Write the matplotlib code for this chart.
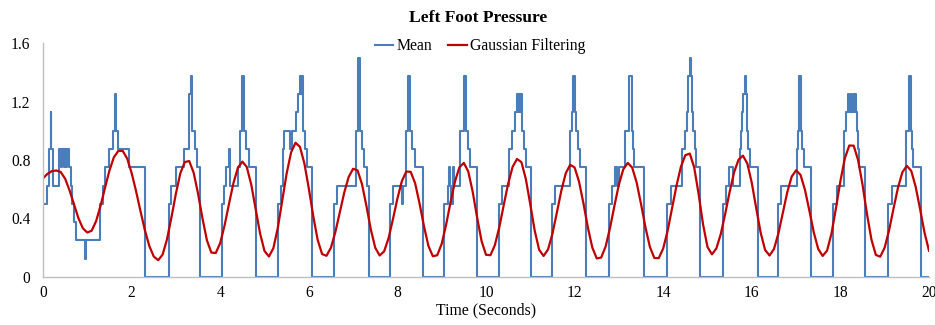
import matplotlib
matplotlib.use("Agg")
import matplotlib.pyplot as plt
import numpy as np

# ---- data ----
title = "Left Foot Pressure"
x_label = "Time (Seconds)"
series_names = ["Mean", "Gaussian Filtering"]
x_ticks = [0, 2, 4, 6, 8, 10, 12, 14, 16, 18, 20]
y_ticks = [0, 0.4, 0.8, 1.2, 1.6]

# Mean: step signal (time where a level starts, level)
mean_t = [0.00, 0.08, 0.13, 0.17, 0.19, 0.23, 0.36, 0.40, 0.43, 0.47, 0.50, 0.53, 0.55, 0.58, 0.63, 0.66, 0.70, 0.74, 0.95, 0.97,
          1.29, 1.36, 1.41, 1.48, 1.59, 1.62, 1.65, 1.70, 1.94, 2.30,
          2.85, 2.90, 3.01, 3.19, 3.29, 3.33, 3.37, 3.42, 3.47, 3.55,
          4.04, 4.09, 4.14, 4.19, 4.22, 4.41, 4.44, 4.50, 4.54, 4.59, 4.66, 4.81,
          5.31, 5.37, 5.41, 5.43, 5.58, 5.62, 5.70, 5.76, 5.80, 5.83, 5.85, 5.88, 5.92, 5.96, 6.07,
          6.57, 6.63, 7.06, 7.10, 7.15, 7.21, 7.25, 7.31, 7.37,
          7.83, 7.89, 8.11, 8.13, 8.19, 8.25, 8.29, 8.33, 8.39, 8.57,
          9.05, 9.15, 9.16, 9.19, 9.20, 9.25, 9.28, 9.41, 9.51, 9.55, 9.60, 9.64, 9.79,
          10.29, 10.37, 10.52, 10.59, 10.65, 10.71, 10.73, 10.74, 10.77, 10.78, 10.81, 10.86, 10.90, 11.02,
          11.50, 11.56, 11.90, 11.95, 11.97, 12.02, 12.04, 12.07, 12.12, 12.26,
          12.78, 12.84, 12.91, 12.96, 13.01, 13.14, 13.23, 13.29, 13.32, 13.35, 13.56,
          14.08, 14.17, 14.43, 14.49, 14.54, 14.57, 14.60, 14.63, 14.65, 14.68, 14.71, 14.74, 14.84,
          15.34, 15.42, 15.48, 15.58, 15.73, 15.76, 15.79, 15.81, 15.84, 15.87, 15.89, 15.92, 15.96, 16.13,
          16.60, 16.67, 17.01, 17.04, 17.07, 17.11, 17.14, 17.17, 17.34,
          17.84, 17.92, 18.08, 18.13, 18.18, 18.20, 18.23, 18.25, 18.28, 18.31, 18.33, 18.35, 18.37, 18.40, 18.43, 18.56,
          19.08, 19.17, 19.48, 19.54, 19.59, 19.62, 19.65, 19.83, 20.00]
mean_v = [0.5, 0.625, 0.875, 1.125, 0.875, 0.625, 0.875, 0.75, 0.875, 0.75, 0.875, 0.75, 0.875, 0.75, 0.625, 0.5, 0.375, 0.25, 0.125, 0.25,
          0.5, 0.625, 0.75, 0.875, 1.0, 1.25, 1.0, 0.875, 0.75, 0.0,
          0.5, 0.625, 0.75, 0.875, 1.25, 1.375, 1.0, 0.875, 0.75, 0.0,
          0.5, 0.625, 0.75, 0.875, 0.625, 0.75, 1.0, 1.375, 1.0, 0.875, 0.75, 0.0,
          0.5, 0.625, 0.875, 1.0, 0.875, 1.0, 1.125, 1.25, 1.375, 1.25, 1.375, 1.0, 0.875, 0.75, 0.0,
          0.5, 0.625, 1.0, 1.5, 1.0, 0.875, 0.75, 0.625, 0.0,
          0.5, 0.625, 0.5, 0.625, 1.0, 1.375, 1.0, 0.875, 0.75, 0.0,
          0.5, 0.625, 0.75, 0.625, 0.5, 0.75, 0.625, 1.0, 1.375, 1.0, 0.875, 0.75, 0.0,
          0.5, 0.625, 0.875, 1.0, 1.125, 1.25, 1.125, 1.25, 1.125, 1.25, 1.0, 0.875, 0.75, 0.0,
          0.5, 0.625, 1.0, 1.125, 1.375, 1.125, 1.0, 0.875, 0.75, 0.0,
          0.5, 0.625, 0.75, 0.625, 0.75, 1.0, 1.375, 1.0, 0.875, 0.75, 0.0,
          0.5, 0.625, 0.875, 1.0, 1.125, 1.375, 1.5, 1.375, 1.125, 1.0, 0.875, 0.75, 0.0,
          0.5, 0.625, 0.75, 0.625, 0.875, 1.0, 1.125, 1.25, 1.375, 1.25, 1.0, 0.875, 0.75, 0.0,
          0.5, 0.625, 0.875, 1.0, 1.375, 1.0, 0.875, 0.75, 0.0,
          0.5, 0.625, 1.0, 1.125, 1.25, 1.125, 1.25, 1.125, 1.25, 1.125, 1.25, 1.125, 1.0, 0.875, 0.75, 0.0,
          0.5, 0.625, 1.0, 1.375, 1.0, 0.875, 0.75, 0.0, 0.0]

# Gaussian filtering: sampled every 0.1 s from 0 to 20
gauss_t = [round(i * 0.1, 1) for i in range(201)]
gauss_v = [0.675, 0.705, 0.724, 0.728, 0.718, 0.672, 0.592, 0.496, 0.402, 0.333,
           0.304, 0.317, 0.383, 0.488, 0.610, 0.728, 0.819, 0.862, 0.862, 0.810,
           0.712, 0.588, 0.451, 0.320, 0.212, 0.140, 0.115, 0.153, 0.259, 0.409,
           0.570, 0.709, 0.786, 0.793, 0.714, 0.570, 0.401, 0.251, 0.167, 0.164,
           0.232, 0.354, 0.502, 0.644, 0.747, 0.789, 0.752, 0.633, 0.465, 0.298,
           0.178, 0.140, 0.197, 0.335, 0.520, 0.708, 0.852, 0.918, 0.890, 0.777,
           0.606, 0.417, 0.254, 0.157, 0.145, 0.201, 0.308, 0.443, 0.577, 0.684,
           0.740, 0.729, 0.636, 0.487, 0.325, 0.200, 0.147, 0.175, 0.265, 0.396,
           0.536, 0.655, 0.721, 0.719, 0.641, 0.503, 0.347, 0.213, 0.142, 0.149,
           0.227, 0.358, 0.512, 0.653, 0.750, 0.780, 0.721, 0.582, 0.406, 0.246,
           0.152, 0.149, 0.218, 0.340, 0.491, 0.638, 0.752, 0.807, 0.785, 0.669,
           0.496, 0.316, 0.186, 0.144, 0.188, 0.296, 0.441, 0.590, 0.709, 0.767,
           0.749, 0.652, 0.503, 0.338, 0.201, 0.127, 0.133, 0.208, 0.336, 0.488,
           0.633, 0.737, 0.780, 0.748, 0.647, 0.498, 0.339, 0.205, 0.130, 0.129,
           0.195, 0.316, 0.469, 0.624, 0.754, 0.833, 0.844, 0.749, 0.566, 0.359,
           0.205, 0.155, 0.195, 0.294, 0.432, 0.582, 0.715, 0.802, 0.830, 0.775,
           0.643, 0.470, 0.303, 0.185, 0.147, 0.191, 0.297, 0.439, 0.579, 0.686,
           0.730, 0.698, 0.596, 0.453, 0.304, 0.191, 0.144, 0.181, 0.299, 0.471,
           0.656, 0.811, 0.899, 0.898, 0.799, 0.630, 0.431, 0.257, 0.151, 0.139,
           0.202, 0.321, 0.469, 0.611, 0.717, 0.760, 0.725, 0.616, 0.462, 0.302,
           0.180]

# ---- style ----
plt.rcParams['font.family'] = ['Liberation Serif', 'DejaVu Serif']
blue = "#4A7EBB"
red = "#C00000"
axis_gray = "#BFBFBF"

fig = plt.figure(figsize=(9.35, 3.25), dpi=100)
ax = fig.add_axes([43 / 935, 1 - 277 / 325, (929 - 43) / 935, (277 - 43) / 325])

ax.plot(mean_t, mean_v, drawstyle="steps-post", color=blue, lw=1.5, label=series_names[0])
ax.plot(gauss_t, gauss_v, color=red, lw=1.6, label=series_names[1])

ax.set_xlim(0, 20)
ax.set_ylim(0, 1.6)
ax.set_xticks(x_ticks)
ax.set_yticks(y_ticks)
ax.set_xticklabels([str(v) for v in x_ticks])
ax.set_yticklabels(["0", "0.4", "0.8", "1.2", "1.6"])
ax.tick_params(axis="both", length=0, labelsize=11.2, colors="#000000")
ax.tick_params(axis="y", pad=9)
ax.tick_params(axis="x", pad=6)

for s in ["top", "right"]:
    ax.spines[s].set_visible(False)
for s in ["left", "bottom"]:
    ax.spines[s].set_color(axis_gray)
    ax.spines[s].set_linewidth(1.0)

ax.set_xlabel(x_label, fontsize=11.3, labelpad=1)
fig.text(478 / 935, 1 - 18 / 325, title, ha="center", va="center", fontsize=12.6, fontweight="bold")

leg = fig.legend(loc="center", bbox_to_anchor=(480 / 935, 1 - 46 / 325), ncol=2, frameon=False,
                 fontsize=11.3, handlelength=1.2, handletextpad=0.2, columnspacing=1.0)

fig.savefig("out.png", dpi=100)
